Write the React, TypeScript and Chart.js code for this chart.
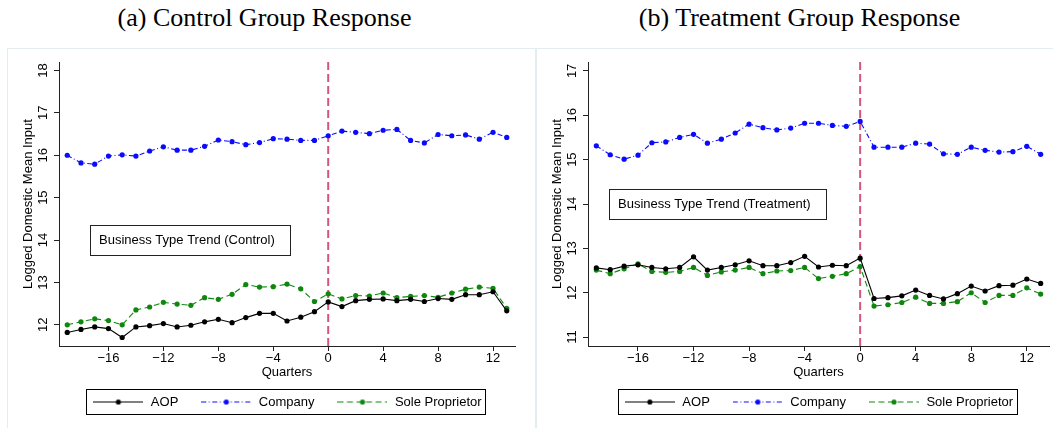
import React, { useEffect, useRef } from 'react';
import { Chart, registerables } from 'chart.js';

Chart.register(...registerables);

// Quarters relative to the event (quarter 0)
const quarters = [
  -19, -18, -17, -16, -15, -14, -13, -12, -11, -10, -9, -8, -7, -6, -5, -4, -3,
  -2, -1, 0, 1, 2, 3, 4, 5, 6, 7, 8, 9, 10, 11, 12, 13,
];
const xTicks = [-16, -12, -8, -4, 0, 4, 8, 12];
const eventQuarter = 0;
const seriesNames = ['AOP', 'Company', 'Sole Proprietor'];

// (a) Control group
const controlAOP = [
  11.82, 11.89, 11.95, 11.91, 11.7, 11.95, 11.98, 12.03, 11.95, 11.99, 12.07,
  12.13, 12.05, 12.17, 12.27, 12.27, 12.09, 12.18, 12.31, 12.54, 12.43, 12.57,
  12.6, 12.61, 12.57, 12.6, 12.55, 12.62, 12.6, 12.71, 12.71, 12.78, 12.33,
];
const controlCompany = [
  16.0, 15.82, 15.79, 15.98, 16.01, 15.98, 16.1, 16.2, 16.12, 16.12, 16.21,
  16.36, 16.32, 16.25, 16.3, 16.39, 16.38, 16.35, 16.35, 16.46, 16.57, 16.54,
  16.51, 16.59, 16.61, 16.35, 16.29, 16.49, 16.46, 16.48, 16.38, 16.54, 16.42,
];
const controlSole = [
  12.0, 12.07, 12.14, 12.1, 12.0, 12.35, 12.42, 12.53, 12.49, 12.46, 12.64,
  12.6, 12.72, 12.95, 12.89, 12.9, 12.96, 12.85, 12.55, 12.73, 12.61, 12.69,
  12.68, 12.75, 12.64, 12.67, 12.69, 12.65, 12.75, 12.84, 12.89, 12.86, 12.39,
];
const controlYTicks = [12, 13, 14, 15, 16, 17, 18];

// (b) Treatment group
const treatAOP = [
  12.56, 12.52, 12.6, 12.63, 12.57, 12.54, 12.57, 12.81, 12.51, 12.57, 12.63,
  12.72, 12.61, 12.61, 12.68, 12.82, 12.58, 12.62, 12.61, 12.78, 11.87, 11.89,
  11.93, 12.06, 11.94, 11.86, 11.98, 12.15, 12.04, 12.16, 12.17, 12.31, 12.21,
];
const treatCompany = [
  15.31, 15.11, 15.01, 15.1, 15.38, 15.4, 15.5, 15.57, 15.37, 15.46, 15.6, 15.8,
  15.72, 15.67, 15.71, 15.82, 15.82, 15.77, 15.75, 15.86, 15.28, 15.28, 15.28,
  15.37, 15.35, 15.13, 15.12, 15.28, 15.21, 15.17, 15.18, 15.3, 15.12,
];
const treatSole = [
  12.51, 12.43, 12.54, 12.65, 12.48, 12.46, 12.48, 12.57, 12.39, 12.47, 12.51,
  12.57, 12.43, 12.49, 12.5, 12.57, 12.32, 12.37, 12.43, 12.59, 11.7, 11.73,
  11.78, 11.9, 11.76, 11.76, 11.8, 12.0, 11.78, 11.94, 11.94, 12.11, 11.97,
];
const treatYTicks = [11, 12, 13, 14, 15, 16, 17];

const FONT_FAMILY = "'Liberation Sans', Arial, Helvetica, sans-serif";
const AXIS_COLOR = '#222';
const EVENT_COLOR = '#d4567c';
const FRAME_COLOR = '#e3edf0';

const seriesStyles = [
  { color: '#000000', dash: [] as number[] },
  { color: '#0a0aff', dash: [5, 2.5, 1, 2.5] },
  { color: '#0f870f', dash: [6, 3.5] },
];

const fmtTick = (v: number) => (v < 0 ? '\u2212' + Math.abs(v) : String(v));

function makeSample(color: string, dash: number[]) {
  const c = document.createElement('canvas');
  c.width = 50;
  c.height = 9;
  const g = c.getContext('2d')!;
  g.strokeStyle = color;
  g.lineWidth = 1;
  g.setLineDash(dash);
  g.beginPath();
  g.moveTo(0, 4.5);
  g.lineTo(50, 4.5);
  g.stroke();
  g.setLineDash([]);
  g.fillStyle = color;
  g.beginPath();
  g.arc(25, 4.5, 2.6, 0, Math.PI * 2);
  g.fill();
  return c;
}

type PanelProps = {
  title: string;
  titleCenter: number;
  frameLeft: number;
  canvasLeft: number;
  canvasWidth: number;
  padRight: number;
  note: string;
  noteX: number;
  noteY: number;
  aop: number[];
  company: number[];
  sole: number[];
  yMin: number;
  yMax: number;
  yTicks: number[];
};

function Panel(p: PanelProps) {
  const ref = useRef<HTMLCanvasElement>(null);

  useEffect(() => {
    const canvas = ref.current!;
    const font = { family: FONT_FAMILY, size: 13 };
    const samples = seriesStyles.map((s) => makeSample(s.color, s.dash));

    const datasets = [p.aop, p.company, p.sole].map((vals, i) => ({
      label: seriesNames[i],
      data: quarters.map((q, k) => ({ x: q, y: vals[k] })),
      borderColor: seriesStyles[i].color,
      backgroundColor: seriesStyles[i].color,
      borderWidth: 1.1,
      borderDash: seriesStyles[i].dash,
      pointRadius: 2.6,
      pointHoverRadius: 2.6,
      pointBackgroundColor: seriesStyles[i].color,
      pointBorderWidth: 0,
      tension: 0,
      fill: false,
    }));

    const decor = {
      id: 'decor',
      beforeDatasetsDraw(chart: any) {
        const { ctx, chartArea } = chart;
        const x = chart.scales.x.getPixelForValue(eventQuarter);
        ctx.save();
        ctx.strokeStyle = EVENT_COLOR;
        ctx.lineWidth = 2;
        ctx.setLineDash([8, 4]);
        ctx.beginPath();
        ctx.moveTo(x, chartArea.top);
        ctx.lineTo(x, chartArea.bottom);
        ctx.stroke();
        ctx.restore();
      },
      afterDatasetsDraw(chart: any) {
        const { ctx } = chart;
        const left = Math.round(chart.scales.x.getPixelForValue(p.noteX));
        const cy = chart.scales.y.getPixelForValue(p.noteY);
        ctx.save();
        ctx.font = `13px ${FONT_FAMILY}`;
        const w = ctx.measureText(p.note).width + 24;
        const top = Math.round(cy - 15.5);
        ctx.fillStyle = '#fff';
        ctx.fillRect(left, top, w, 31);
        ctx.strokeStyle = '#222';
        ctx.lineWidth = 1;
        ctx.strokeRect(left + 0.5, top + 0.5, Math.round(w), 30);
        ctx.fillStyle = '#000';
        ctx.textBaseline = 'middle';
        ctx.textAlign = 'left';
        ctx.fillText(p.note, left + 9, cy);
        ctx.restore();
      },
      afterDraw(chart: any) {
        const boxes = chart.legend?.legendHitBoxes;
        if (!boxes || !boxes.length) return;
        const { ctx } = chart;
        const left = Math.min(...boxes.map((b: any) => b.left)) - 6;
        const right = Math.max(...boxes.map((b: any) => b.left + b.width)) + 4;
        const cy = boxes[0].top + boxes[0].height / 2;
        ctx.save();
        ctx.strokeStyle = '#000';
        ctx.lineWidth = 1;
        ctx.strokeRect(
          Math.round(left) + 0.5,
          Math.round(cy - 13) + 0.5,
          Math.round(right - left),
          25
        );
        ctx.restore();
      },
    };

    const chart = new Chart(canvas, {
      type: 'line',
      data: { datasets } as any,
      options: {
        animation: false,
        responsive: false,
        devicePixelRatio: 1,
        events: [],
        layout: { padding: { top: 13, right: p.padRight, bottom: 9.5, left: 0 } },
        scales: {
          x: {
            type: 'linear',
            min: -19.6,
            max: 13.6,
            afterBuildTicks: (s: any) => {
              s.ticks = xTicks.map((v) => ({ value: v }));
            },
            afterFit: (s: any) => {
              s.height = 27.5;
            },
            ticks: {
              color: '#000',
              font,
              padding: 0,
              maxRotation: 0,
              autoSkip: false,
              callback: (v: any) => fmtTick(Number(v)),
            },
            grid: { drawOnChartArea: false, drawTicks: true, tickLength: 5, color: AXIS_COLOR },
            border: { display: true, color: AXIS_COLOR, width: 1 },
            title: {
              display: true,
              text: 'Quarters',
              color: '#000',
              font,
              padding: { top: 0, bottom: -6.8 },
            },
          },
          y: {
            type: 'linear',
            min: p.yMin,
            max: p.yMax,
            afterBuildTicks: (s: any) => {
              s.ticks = p.yTicks.map((v) => ({ value: v }));
            },
            afterFit: (s: any) => {
              s.width = 51;
            },
            ticks: {
              color: '#000',
              font,
              padding: 3,
              minRotation: 90,
              maxRotation: 90,
              crossAlign: 'center',
              callback: (v: any) => fmtTick(Number(v)),
            },
            grid: { drawOnChartArea: false, drawTicks: true, tickLength: 5, color: AXIS_COLOR },
            border: { display: true, color: AXIS_COLOR, width: 1 },
            title: {
              display: true,
              text: 'Logged Domestic Mean Input',
              color: '#000',
              font,
              padding: { top: 12.5, bottom: 0 },
            },
          },
        },
        plugins: {
          title: { display: false },
          tooltip: { enabled: false },
          legend: {
            display: true,
            position: 'bottom',
            fullSize: false,
            align: 'center',
            labels: {
              color: '#000',
              font,
              padding: 22,
              usePointStyle: true,
              pointStyleWidth: 52,
              boxHeight: 13,
              generateLabels: (c: any) => {
                const base = (Chart.defaults.plugins.legend.labels as any).generateLabels(c);
                return base.map((it: any, i: number) => ({
                  ...it,
                  pointStyle: samples[i],
                  fontColor: '#000',
                }));
              },
            },
          },
        },
      } as any,
      plugins: [decor],
    });
    return () => chart.destroy();
  }, []);

  return (
    <>
      <div
        style={{
          position: 'absolute',
          left: p.titleCenter - 260,
          width: 520,
          top: 3,
          height: 30,
          lineHeight: '30px',
          textAlign: 'center',
          fontFamily: "'Liberation Serif', 'Times New Roman', serif",
          fontSize: 26,
          color: '#000',
          whiteSpace: 'nowrap',
        }}
      >
        {p.title}
      </div>
      <div
        style={{
          position: 'absolute',
          left: p.frameLeft,
          top: 48,
          width: 529,
          height: 420,
          boxSizing: 'border-box',
          border: `1px solid ${FRAME_COLOR}`,
        }}
      />
      <canvas
        ref={ref}
        width={p.canvasWidth}
        height={379}
        style={{
          position: 'absolute',
          left: p.canvasLeft,
          top: 49,
          width: p.canvasWidth,
          height: 379,
          display: 'block',
        }}
      />
    </>
  );
}

export default function App() {
  return (
    <div
      style={{
        position: 'absolute',
        left: 0,
        top: 0,
        width: 1053,
        height: 428,
        overflow: 'hidden',
        background: '#fff',
      }}
    >
      <Panel
        title="(a) Control Group Response"
        titleCenter={264.5}
        frameLeft={7}
        canvasLeft={8}
        canvasWidth={526}
        padRight={19}
        note="Business Type Trend (Control)"
        noteX={-17.35}
        noteY={14}
        aop={controlAOP}
        company={controlCompany}
        sole={controlSole}
        yMin={11.5}
        yMax={18.2}
        yTicks={controlYTicks}
      />
      <Panel
        title="(b) Treatment Group Response"
        titleCenter={799.5}
        frameLeft={536}
        canvasLeft={537}
        canvasWidth={516}
        padRight={4}
        note="Business Type Trend (Treatment)"
        noteX={-18.07}
        noteY={14}
        aop={treatAOP}
        company={treatCompany}
        sole={treatSole}
        yMin={10.8}
        yMax={17.2}
        yTicks={treatYTicks}
      />
    </div>
  );
}
